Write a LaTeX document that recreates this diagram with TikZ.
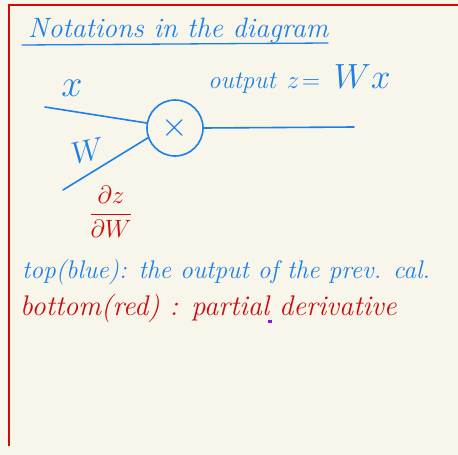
\RequirePackage{fix-cm}
\documentclass[tikz,border=0pt]{standalone}
\usepackage{amsmath, amssymb}
\usepackage[dvipsnames]{xcolor}
\usepackage{tikz}
\usetikzlibrary{positioning, calc}

\definecolor{paper}{RGB}{248,245,234}
\definecolor{penblue}{RGB}{28,128,232}
\definecolor{penred}{RGB}{206,10,10}
\definecolor{penviolet}{RGB}{140,20,220}

\begin{document}
\begin{tikzpicture}[x=1pt, y=-1pt,
    pen/.style={penblue, line width=1.6pt, line cap=round},
    note/.style={anchor=base west, inner sep=0pt, font=\itshape}]
  % Fond et marges
  \fill[paper] (0,0) rectangle (458,455);
  \useasboundingbox (0,0) rectangle (458,455);
  \draw[penred, line width=1.2pt] (9,446) -- (9,5) -- (458,5);

  % Titre
  \node[note, penblue, font=\fontsize{28}{30}\selectfont\itshape] (title) at (28,37) {Notations in the diagram};
  \draw[pen, line width=1.3pt] (22,45) -- (328,43);

  % Porte de multiplication
  \node[draw=penblue, line width=1.6pt, circle, minimum size=56pt, inner sep=0pt,
        penblue, font=\fontsize{34}{34}\selectfont] (mul) at (175,128) {$\times$};

  % Entrees et sortie
  \coordinate (xin) at (45,107);
  \coordinate (win) at (63,190);
  \coordinate (zout) at (354,127);
  \draw[pen] (xin) -- (mul.170);
  \draw[pen] (win) -- (mul.200);
  \draw[pen] (mul.east) -- (zout);

  % Etiquettes
  \node[penblue, font=\fontsize{38}{38}\selectfont] (xlab) at (72,88) {$x$};
  \node[penblue, font=\fontsize{31}{31}\selectfont, rotate=12] (wlab) at (88,151) {$W$};
  \node[note, penblue, font=\fontsize{25}{28}\selectfont\itshape] (zlab) at (208,88) {output\;\,$z\!=$\;\;\fontsize{35}{35}\selectfont$Wx$};
  \node[penred, font=\fontsize{25}{30}\selectfont] (grad) at (111,212) {$\dfrac{\partial z}{\partial W}$};

  % Legende
  \node[note, penblue, font=\fontsize{25.5}{28}\selectfont\itshape] (top) at (22,278) {top(blue): the output of the prev. cal.};
  \node[note, penred, font=\fontsize{28.4}{30}\selectfont\itshape] (bottom) at (20,315) {bottom(red) : partial derivative};
  \fill[penviolet] (268,320) rectangle (272,323);
\end{tikzpicture}
\end{document}
